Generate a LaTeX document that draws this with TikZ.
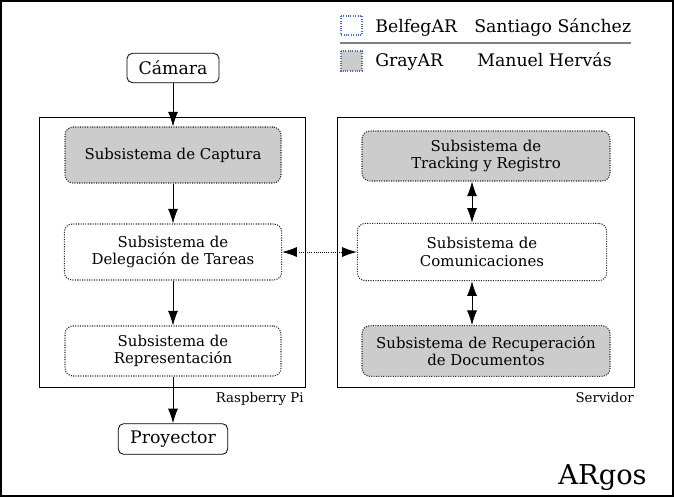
\documentclass[tikz,border=0pt]{standalone}
\usepackage{fontspec}
\setmainfont{DejaVu Serif}
\usetikzlibrary{arrows.meta}
\definecolor{grisar}{RGB}{204,204,204}
\definecolor{azulley}{RGB}{70,110,190}

\begin{document}
\begin{tikzpicture}[x=0.75pt,y=-0.75pt,
	subsis/.style={draw=black!85, densely dotted, line width=0.8pt, rounded corners=6pt, align=center,
		font=\fontsize{11.2}{13}\selectfont},
	extremo/.style={draw, line width=0.6pt, rounded corners=4pt, inner sep=0pt,
		font=\fontsize{13}{15}\selectfont},
	etiq/.style={inner sep=0pt},
	flecha/.style={line width=0.6pt, -{Latex[length=11pt,width=7.5pt]}},
	dblflecha/.style={line width=0.6pt, {Latex[length=11pt,width=7.5pt]}-{Latex[length=11pt,width=7.5pt]}}]

	\useasboundingbox (0,0) rectangle (674,497);
	\draw[line width=1.5pt] (1,1) rectangle (673,496);

	% leyenda
	\draw[azulley, densely dotted, line width=0.8pt] (341,16) rectangle (362,35);
	\draw[azulley, densely dotted, line width=0.8pt, fill=grisar] (341,51) rectangle (362,71);
	\node[etiq, anchor=base west, font=\fontsize{13}{15}\selectfont] (belfeg) at (375,32) {BelfegAR};
	\node[etiq, anchor=base west, font=\fontsize{13}{15}\selectfont] (santiago) at (474,32) {Santiago Sánchez};
	\node[etiq, anchor=base west, font=\fontsize{13}{15}\selectfont] (gray) at (375,66) {GrayAR};
	\node[etiq, anchor=base west, font=\fontsize{13}{15}\selectfont] (manuel) at (477,66) {Manuel Hervás};
	\draw[black!50, line width=1.2pt] (340,43) -- (631,43);

	% contenedores
	\draw[line width=0.7pt] (39,117) rectangle (305,387);
	\draw[line width=0.7pt] (337,117) rectangle (634,387);
	\node[etiq, anchor=base east, font=\fontsize{10}{12}\selectfont] (rpi) at (304,402) {Raspberry Pi};
	\node[etiq, anchor=base east, font=\fontsize{10}{12}\selectfont] (servidor) at (634,402) {Servidor};

	\node[extremo, minimum width=69pt, minimum height=22pt] (camara) at (173,68) {Cámara};
	\node[extremo, minimum width=82pt, minimum height=23pt] (proyector) at (173,439) {Proyector};

	% Raspberry Pi
	\node[subsis, fill=grisar, minimum width=162pt, minimum height=42pt] (captura) at (173,155) {Subsistema de Captura};
	\node[subsis, minimum width=163pt, minimum height=42pt] (delegacion) at (173,252) {Subsistema de\\Delegación de Tareas};
	\node[subsis, minimum width=162pt, minimum height=37.5pt] (represent) at (173,351) {Subsistema de\\Representación};

	% Servidor
	\node[subsis, fill=grisar, minimum width=186pt, minimum height=37.5pt] (tracking) at (486,156) {Subsistema de\\Tracking y Registro};
	\node[subsis, minimum width=187pt, minimum height=43pt] (comunic) at (482,252) {Subsistema de\\Comunicaciones};
	\node[subsis, fill=grisar, minimum width=186pt, minimum height=38pt] (recuper) at (486,351) {Subsistema de Recuperación\\de Documentos};

	\node[etiq, anchor=base east, font=\fontsize{20.5}{24}\selectfont] (argos) at (647,484) {ARgos};

	\draw[flecha] (camara) -- (captura);
	\draw[flecha] (captura) -- (delegacion);
	\draw[flecha] (delegacion) -- (represent);
	\draw[flecha] (represent) -- (proyector);
	\draw[dblflecha, densely dotted] (delegacion) -- (comunic);
	\coordinate (ejeder) at (472,0);
	\draw[dblflecha] (tracking.south -| ejeder) -- (comunic.north -| ejeder);
	\draw[dblflecha] (comunic.south -| ejeder) -- (recuper.north -| ejeder);

\end{tikzpicture}
\end{document}
